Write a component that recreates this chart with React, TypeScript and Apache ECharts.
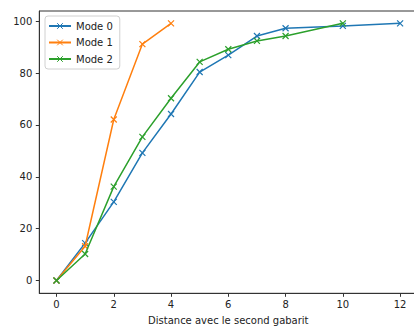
import React, { useEffect, useRef } from "react";
import * as echarts from "echarts";

const xMode0 = [0, 1, 2, 3, 4, 5, 6, 7, 8, 10, 12];
const yMode0 = [0, 14.4, 30.3, 49.2, 64.2, 80.4, 86.9, 94.3, 97.3, 98.2, 99.2];
const xMode1 = [0, 1, 2, 3, 4];
const yMode1 = [0, 13.2, 62.1, 91.2, 99.2];
const xMode2 = [0, 1, 2, 3, 4, 5, 6, 7, 8, 10];
const yMode2 = [0, 10.2, 36.2, 55.4, 70.3, 84.3, 89.2, 92.4, 94.3, 99.2];
const xTicks = [0, 2, 4, 6, 8, 10, 12];
const yTicks = [0, 20, 40, 60, 80, 100];
const seriesNames = ["Mode 0", "Mode 1", "Mode 2"];
const colors = ["#1f77b4", "#ff7f0e", "#2ca02c"];

const FONT = "DejaVu Sans";
const XMARK = "path://M0,0L10,10M10,0L0,10";

function zip(xs: number[], ys: number[]) {
  return xs.map((x, i) => [x, ys[i]]);
}

export default function App() {
  const ref = useRef<HTMLDivElement>(null);
  useEffect(() => {
    if (!ref.current) return;
    const chart = echarts.init(ref.current, undefined, { renderer: "svg" });
    const datas = [zip(xMode0, yMode0), zip(xMode1, yMode1), zip(xMode2, yMode2)];
    chart.setOption({
      animation: false,
      backgroundColor: "#ffffff",
      grid: {
        left: 39.3,
        top: 11,
        width: 378,
        height: 282.3,
        show: true,
        borderColor: "#333",
        borderWidth: 1,
        backgroundColor: "transparent",
        containLabel: false,
        outerBoundsMode: "none",
      },
      legend: {
        orient: "vertical",
        left: 45,
        top: 16,
        padding: [4, 7, 4, 3],
        itemGap: 4.5,
        itemWidth: 22,
        itemHeight: 7,
        backgroundColor: "#fff",
        borderColor: "#d0d0d0",
        borderWidth: 1,
        borderRadius: 3,
        itemStyle: { borderWidth: 1 },
        textStyle: { fontFamily: FONT, fontSize: 10, color: "#222", lineHeight: 12 },
        data: seriesNames,
      },
      xAxis: {
        type: "value",
        min: -0.6,
        max: 12.6,
        name: "Distance avec le second gabarit",
        nameLocation: "middle",
        nameGap: 22,
        nameTextStyle: { fontFamily: FONT, fontSize: 10, color: "#222" },
        splitLine: { show: false },
        axisLine: { show: true, onZero: false, lineStyle: { color: "#333", width: 1 } },
        axisTick: { show: true, inside: false, length: 3.5, lineStyle: { color: "#333" }, customValues: xTicks },
        axisLabel: { fontFamily: FONT, fontSize: 10, color: "#222", margin: 6, customValues: xTicks },
      },
      yAxis: {
        type: "value",
        min: -4.95,
        max: 103.95,
        splitLine: { show: false },
        axisLine: { show: true, onZero: false, lineStyle: { color: "#333", width: 1 } },
        axisTick: { show: true, inside: false, length: 3.5, lineStyle: { color: "#333" }, customValues: yTicks },
        axisLabel: { fontFamily: FONT, fontSize: 10, color: "#222", margin: 7, customValues: yTicks },
      },
      series: seriesNames.map((name, i) => ({
        name,
        type: "line",
        data: datas[i],
        symbol: XMARK,
        symbolSize: 6,
        showAllSymbol: true,
        color: colors[i],
        lineStyle: { color: colors[i], width: 1.5 },
        itemStyle: { color: "none", borderColor: colors[i], borderWidth: 1.2 },
        emphasis: { disabled: true },
        z: 2 + i,
      })),
    });
    return () => chart.dispose();
  }, []);
  return (
    <div
      ref={ref}
      style={{ position: "fixed", left: 0, top: 0, width: 414, height: 329, background: "#fff" }}
    />
  );
}
